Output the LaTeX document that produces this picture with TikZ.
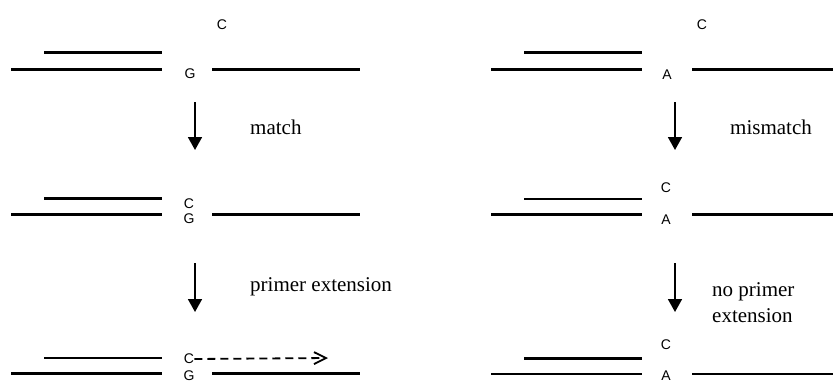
\documentclass[tikz,border=0pt]{standalone}
\usepackage{fontspec}
\setmainfont{Liberation Serif}
\setsansfont{Liberation Sans}
\usetikzlibrary{arrows.meta,positioning}

\tikzset{
  strand/.style={line width=2.4pt},
  base/.style={font=\sffamily\fontsize{14}{14}\selectfont,inner sep=0pt},
  stepline/.style={line width=1.8pt,-{Triangle[width=14pt,length=13pt]}},
  note/.style={font=\fontsize{21}{26}\selectfont,inner sep=0pt,anchor=west,align=left},
  extend/.style={line width=1.8pt,dash pattern=on 8pt off 5pt,
    -{Straight Barb[length=12pt,width=12pt,line width=1.8pt]}}
}

\begin{document}
\begin{tikzpicture}[x=1pt,y=-1pt]
  \useasboundingbox (0,0) rectangle (833,383);
  % left column: G opposite C
  \draw[strand] (44,52.5)--(162,52.5);
  \draw[strand] (11,69.3)--(162,69.3);
  \draw[strand] (212,69.3)--(360,69.3);
  \node[base] (c1) at (222,25) {C};
  \node[base] (g1) at (190,74) {G};
  \coordinate (m1) at (195,102);
  \coordinate (m2) at (195,150);
  \draw[stepline] (m1)--(m2);
  \node[note] (match) at (250,127) {match};
  % paired
  \draw[strand] (44,198.5)--(162,198.5);
  \draw[strand] (11,214.3)--(162,214.3);
  \draw[strand] (212,214.3)--(360,214.3);
  \node[base] (c2) at (189,204) {C};
  \node[base] (g2) at (189,218.5) {G};
  \coordinate (m3) at (195,263);
  \coordinate (m4) at (195,312);
  \draw[stepline] (m3)--(m4);
  \node[note] (ext) at (250,287) {primer extension};
  % extended
  \draw[strand] (44,358)--(162,358);
  \draw[strand] (11,373.3)--(162,373.3);
  \draw[strand] (212,373.3)--(360,373.3);
  \node[base] (c3) at (189,359) {C};
  \node[base] (g3) at (189,376) {G};
  \coordinate (e1) at (328,358);
  \draw[extend] (c3.east)--(e1);

  % right column: A opposite C
  \draw[strand] (524,52.5)--(642,52.5);
  \draw[strand] (491,69.3)--(642,69.3);
  \draw[strand] (692,69.3)--(833,69.3);
  \node[base] (c4) at (702,25) {C};
  \node[base] (a4) at (667,75) {A};
  \coordinate (n1) at (675,102);
  \coordinate (n2) at (675,150);
  \draw[stepline] (n1)--(n2);
  \node[note] (mismatch) at (730,127) {mismatch};
  % not paired
  \draw[strand] (524,199)--(642,199);
  \draw[strand] (491,214.3)--(642,214.3);
  \draw[strand] (692,214.3)--(833,214.3);
  \node[base] (c5) at (666,187.5) {C};
  \node[base] (a5) at (666,219.5) {A};
  \coordinate (n3) at (675,263);
  \coordinate (n4) at (675,312);
  \draw[stepline] (n3)--(n4);
  \node[note] (noext) at (712,303) {no primer\\extension};
  % stalled
  \draw[strand] (524,358.3)--(642,358.3);
  \draw[strand] (491,374)--(642,374);
  \draw[strand] (692,374)--(833,374);
  \node[base] (c6) at (666,345) {C};
  \node[base] (a6) at (666,376) {A};
\end{tikzpicture}
\end{document}
